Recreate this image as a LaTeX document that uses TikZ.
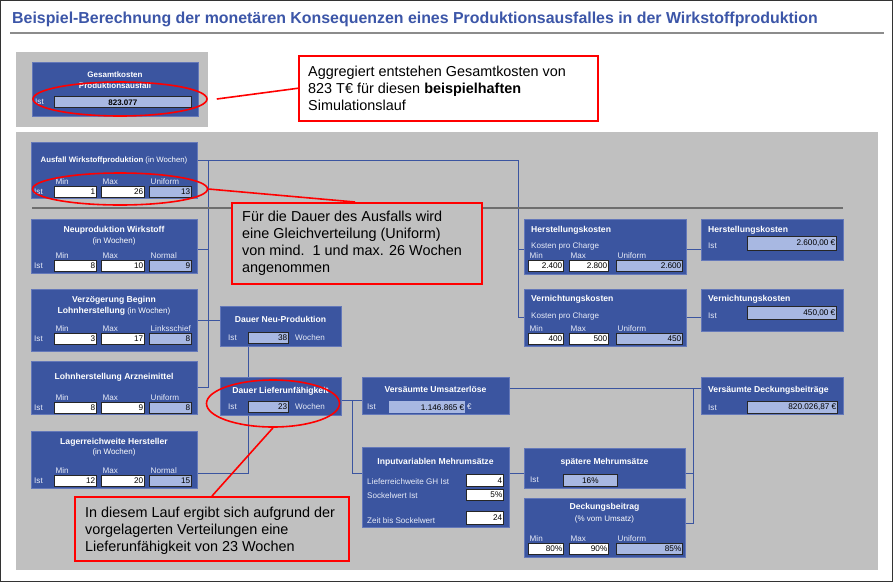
\documentclass[tikz,border=0pt]{standalone}
\usepackage{fontspec}
\setmainfont{Liberation Sans}
\usetikzlibrary{shapes.geometric,calc}
\definecolor{bgg}{RGB}{192,192,192}
\definecolor{boxb}{RGB}{59,85,160}
\definecolor{boxe}{RGB}{100,120,185}
\definecolor{fldb}{RGB}{168,184,226}
\definecolor{ttlb}{RGB}{60,86,168}
\definecolor{labc}{RGB}{232,236,248}
\definecolor{sepg}{RGB}{110,110,110}
\newcommand\fsz[1]{\fontsize{#1}{#1}\selectfont}
\newcommand\wfield[6]{\node[wfld, minimum width=#4pt, minimum height=#5pt] (#1) at (#2,#3) {};
  \node[ftxt] (#1v) at (#1.east) {#6};}
\newcommand\lfield[6]{\node[lfld, minimum width=#4pt, minimum height=#5pt] (#1) at (#2,#3) {};
  \node[ftxt] (#1v) at (#1.east) {#6};}
\newcommand\flab[3]{\node[lab] (#1) at ([shift={(1.5pt,1.8pt)}]#2.north west) {#3};}
\newcommand\trio[6]{%
  \wfield{#1f1}{54}{#2}{42}{10.5}{#4}
  \wfield{#1f2}{101}{#2}{43}{10.5}{#5}
  \lfield{#1f3}{149}{#2}{42}{10.5}{#6}
  \flab{#1l1}{#1f1}{Min}\flab{#1l2}{#1f2}{Max}\flab{#1l3}{#1f3}{#3}
  \node[lab, anchor=west] (#1ist) at (34,#2+5.25) {Ist};}
\begin{document}
\begin{tikzpicture}[x=1pt,y=-1pt,
  bbox/.style={draw=boxe, line width=0.6pt, fill=boxb, inner sep=0pt, anchor=north west},
  wfld/.style={draw=black!85, line width=0.7pt, fill=white, inner sep=0pt, anchor=north west},
  lfld/.style={draw=black!85, line width=0.7pt, fill=fldb, inner sep=0pt, anchor=north west},
  ftxt/.style={anchor=east, inner sep=1.2pt, font=\fsz{8.2}, text=black},
  btitle/.style={inner sep=0pt, font=\bfseries\fsz{8.6}, text=white, anchor=base},
  lab/.style={inner sep=0pt, font=\fsz{8.1}, text=labc, anchor=base west},
  conn/.style={draw=boxb, line width=0.8pt},
  redell/.style={ellipse, draw=red, line width=1.6pt, inner sep=0pt},
  callout/.style={draw=red, line width=1.5pt, inner sep=0pt, anchor=north west},
  ctext/.style={inner sep=0pt, anchor=base west, font=\fontsize{14.4}{17}\selectfont, text=black},
  redl/.style={draw=red, line width=1.6pt},
]
\useasboundingbox (0,0) rectangle (893,582);
\fill[white] (0,0) rectangle (893,582);
\draw[black!80, line width=1pt] (0.5,0.5) rectangle (892.5,581.5);

% title
\node[font=\bfseries\fsz{15.9}, text=ttlb, anchor=base west, inner sep=0pt] (title) at (12,23.5)
  {Beispiel-Berechnung der monetären Konsequenzen eines Produktionsausfalles in der Wirkstoffproduktion};
\draw[line width=1.6pt, draw=black!45] (10,33) -- (884,33);

% panels
\fill[bgg] (16,52) rectangle (208,127);
\fill[bgg] (16,132) rectangle (878,570);

% top box
\node[bbox, minimum width=166pt, minimum height=54pt] (gk) at (32,62) {};
\node[btitle, font=\bfseries\fsz{8}] (gkt1) at (115,77) {Gesamtkosten};
\node[btitle, font=\bfseries\fsz{8}] (gkt2) at (115,88) {Produktionsausfall};
\node[lab] (gkist) at (35,104) {Ist};
\node[lfld, minimum width=137pt, minimum height=11pt] (gkf) at (54,96) {};
\node[font=\bfseries\fsz{8}, inner sep=0pt, anchor=base] (gkv) at ($(gkf.south)+(0,2.5pt)$) {823.077};

% left column
\node[bbox, minimum width=166pt, minimum height=56pt] (b1) at (31,142) {};
\node[btitle, font=\fsz{7.8}] (b1t) at (114,162) {\textbf{Ausfall Wirkstoffproduktion} (in Wochen)};
\trio{b1}{186}{Uniform}{1}{26}{13}

\node[bbox, minimum width=166pt, minimum height=54pt] (b2) at (31,219) {};
\node[btitle] (b2t1) at (114,232) {Neuproduktion Wirkstoff};
\node[btitle, font=\fsz{8}] (b2t2) at (114,243) {(in Wochen)};
\trio{b2}{260}{Normal}{8}{10}{9}

\node[bbox, minimum width=166pt, minimum height=62pt] (b3) at (31,289) {};
\node[btitle] (b3t1) at (114,302) {Verzögerung Beginn};
\node[btitle, font=\fsz{8}] (b3t2) at (114,313) {\textbf{\fsz{8.6}Lohnherstellung} (in Wochen)};
\trio{b3}{333}{Linksschief}{3}{17}{8}

\node[bbox, minimum width=166pt, minimum height=53pt] (b4) at (31,361) {};
\node[btitle] (b4t) at (114,379) {Lohnherstellung Arzneimittel};
\trio{b4}{402}{Uniform}{8}{9}{8}

\node[bbox, minimum width=166pt, minimum height=57pt] (b5) at (31,431) {};
\node[btitle] (b5t1) at (114,444) {Lagerreichweite Hersteller};
\node[btitle, font=\fsz{8}] (b5t2) at (114,454) {(in Wochen)};
\trio{b5}{475}{Normal}{12}{20}{15}

% middle column
\node[bbox, minimum width=121pt, minimum height=40pt] (dn) at (220,306) {};
\node[btitle] (dnt) at (280.5,322) {Dauer Neu-Produktion};
\node[lab, anchor=west] (dnist) at (228,337.5) {Ist};
\lfield{dnf}{248}{332}{40}{11}{38}
\node[lab, anchor=west] (dnw) at (295,337.5) {Wochen};

\node[bbox, minimum width=121pt, minimum height=38pt] (dl) at (220,377) {};
\node[btitle] (dlt) at (280.5,393) {Dauer Lieferunfähigkeit};
\node[lab, anchor=west] (dlist) at (228,406.5) {Ist};
\lfield{dlf}{248}{401}{40}{11}{23}
\node[lab, anchor=west] (dlw) at (295,406.5) {Wochen};

\node[bbox, minimum width=147pt, minimum height=37pt] (vu) at (362,377) {};
\node[btitle] (vut) at (435.5,392) {Versäumte Umsatzerlöse};
\node[lab, anchor=west] (vuist) at (367,407) {Ist};
\node[lfld, draw=none, minimum width=76pt, minimum height=12pt] (vuf) at (389,401) {};
\node[ftxt] (vufv) at (vuf.east) {1.146.865 €};
\node[lab, anchor=west] (vue) at (467,407) {€};

\node[bbox, minimum width=147pt, minimum height=80pt] (im) at (362,447) {};
\node[btitle] (imt) at (435.5,464) {Inputvariablen Mehrumsätze};
\node[lab] (iml1) at (367,484) {Lieferreichweite GH Ist};
\node[lab] (iml2) at (367,498) {Sockelwert Ist};
\node[lab] (iml3) at (367,523) {Zeit bis Sockelwert};
\wfield{imf1}{466}{474}{37}{12}{4}
\wfield{imf2}{466}{489}{37}{10.5}{5\%}
\wfield{imf3}{466}{511}{37}{13}{24}

\node[bbox, minimum width=161pt, minimum height=40pt] (sm) at (524,448) {};
\node[btitle] (smt) at (604.5,464) {spätere Mehrumsätze};
\node[lab, anchor=west] (smist) at (530,480) {Ist};
\node[lfld, minimum width=54pt, minimum height=12pt] (smf) at (563,474) {};
\node[font=\fsz{8.2}, inner sep=0pt] (smfv) at (smf.center) {16\%};

\node[bbox, minimum width=161pt, minimum height=59pt] (db) at (524,498) {};
\node[btitle] (dbt1) at (604.5,509) {Deckungsbeitrag};
\node[btitle, font=\fsz{8}] (dbt2) at (604.5,521) {(\% vom Umsatz)};
\wfield{dbf1}{528}{543}{35}{11}{80\%}
\wfield{dbf2}{569}{543}{39}{11}{90\%}
\lfield{dbf3}{616}{543}{66}{11}{85\%}
\flab{dbl1}{dbf1}{Min}\flab{dbl2}{dbf2}{Max}\flab{dbl3}{dbf3}{Uniform}

% right upper
\node[bbox, minimum width=162pt, minimum height=55pt] (hk) at (524,219) {};
\node[btitle, anchor=base west] (hkt) at (531,232) {Herstellungskosten};
\node[lab] (hkk) at (531,248) {Kosten pro Charge};
\wfield{hkf1}{528}{260}{35}{11}{2.400}
\wfield{hkf2}{569}{260}{39}{11}{2.800}
\lfield{hkf3}{616}{260}{66}{11}{2.600}
\flab{hkl1}{hkf1}{Min}\flab{hkl2}{hkf2}{Max}\flab{hkl3}{hkf3}{Uniform}

\node[bbox, minimum width=162pt, minimum height=57pt] (vk) at (524,289) {};
\node[btitle, anchor=base west] (vkt) at (531,301) {Vernichtungskosten};
\node[lab] (vkk) at (531,318) {Kosten pro Charge};
\wfield{vkf1}{528}{333}{35}{11}{400}
\wfield{vkf2}{569}{333}{39}{11}{500}
\lfield{vkf3}{616}{333}{66}{11}{450}
\flab{vkl1}{vkf1}{Min}\flab{vkl2}{vkf2}{Max}\flab{vkl3}{vkf3}{Uniform}

\node[bbox, minimum width=142pt, minimum height=41pt] (hk2) at (701,219) {};
\node[btitle, anchor=base west] (hk2t) at (708,232) {Herstellungskosten};
\node[lab] (hk2ist) at (708,248) {Ist};
\lfield{hk2f}{747}{236}{89}{14}{2.600,00 €}

\node[bbox, minimum width=142pt, minimum height=42pt] (vk2) at (701,289) {};
\node[btitle, anchor=base west] (vk2t) at (708,301) {Vernichtungskosten};
\node[lab] (vk2ist) at (708,318) {Ist};
\lfield{vk2f}{747}{306}{89}{13}{450,00 €}

\node[bbox, minimum width=142pt, minimum height=37pt] (vd) at (701,377) {};
\node[btitle, anchor=base west] (vdt) at (708,392) {Versäumte Deckungsbeiträge};
\node[lab] (vdist) at (708,410) {Ist};
\lfield{vdf}{747}{401}{90}{12}{820.026,87 €}

% connectors
\coordinate (jA) at (518,160);
\draw[conn] (b1.east |- jA) -- (jA) |- (vk.west);
\draw[conn] ([yshift=-2.5pt]hk.west) -| (jA);
\coordinate (jB) at (208,160);
\draw[conn] (jB) |- (b4.east);
\draw[conn] ([yshift=-3pt]b2.east) -- ([yshift=-3pt]b2.east -| jB);
\draw[conn] (b3.east) -- (b3.east -| dn.west);
\draw[conn] ([xshift=28pt]dn.south west) -- ([xshift=28pt]dl.north west);
\draw[conn] ([xshift=28pt]dl.south west) |- ([yshift=-13.5pt]b5.east);
\draw[conn] ([yshift=-4pt]dl.east) -- ([yshift=-4pt]dl.east -| vu.west);
\coordinate (jC) at (352,400);
\draw[conn] (jC) |- ([yshift=14pt]im.west);
\draw[conn] ([yshift=14pt]im.east) -- ([yshift=14pt]im.east -| sm.west);
\coordinate (jD) at (693,388);
\draw[conn] ([yshift=7.5pt]vu.east) -- ([yshift=7.5pt]vd.west);
\draw[conn] (jD) |- ([yshift=4.5pt]db.east);
\draw[conn] ([yshift=-5pt]sm.east) -- ([yshift=-5pt]sm.east -| jD);
\draw[conn] ([yshift=-2.5pt]hk.east) -- ([yshift=-2.5pt]hk.east -| hk2.west);
\draw[conn] (vk.east) -- (vk.east -| vk2.west);

% separator
\draw[sepg, line width=1.5pt] (32,208) -- (843,208);

% callouts
\node[callout, fill=white, minimum width=299pt, minimum height=65pt] (c1) at (298,55) {};
\node[ctext] (c1a) at (308,76) {Aggregiert entstehen Gesamtkosten von};
\node[ctext] (c1b) at (308,93) {823 T€ für diesen \textbf{beispielhaften}};
\node[ctext] (c1c) at (308,110) {Simulationslauf};

\node[callout, fill=bgg, minimum width=250pt, minimum height=81pt] (c2) at (231,202) {};
\node[ctext] (c2a) at (242,221.5) {Für die Dauer des Ausfalls wird};
\node[ctext] (c2b) at (242,238.5) {eine Gleichverteilung (Uniform)};
\node[ctext] (c2c) at (242,255.5) {von mind.\ \ 1 und max. 26 Wochen};
\node[ctext] (c2d) at (242,272.5) {angenommen};

\node[callout, fill=bgg, minimum width=274pt, minimum height=64pt] (c3) at (74,496) {};
\node[ctext] (c3a) at (85,517) {In diesem Lauf ergibt sich aufgrund der};
\node[ctext] (c3b) at (85,534) {vorgelagerten Verteilungen eine};
\node[ctext] (c3c) at (85,551) {Lieferunfähigkeit von 23 Wochen};

% ellipses
\node[redell, minimum width=174pt, minimum height=34pt] (e0) at (120,99) {};
\node[redell, minimum width=175pt, minimum height=32pt] (e1) at (120,189) {};
\node[redell, minimum width=133pt, minimum height=47pt] (e2) at (273,403.5) {};
\draw[redl] ([xshift=9pt]e0.east) -- (c1.west);
\draw[redl] (e1.east) -- ([xshift=124pt]c2.north west);
\draw[redl] (e2.south) -- ([xshift=138pt]c3.north west);
\end{tikzpicture}
\end{document}
